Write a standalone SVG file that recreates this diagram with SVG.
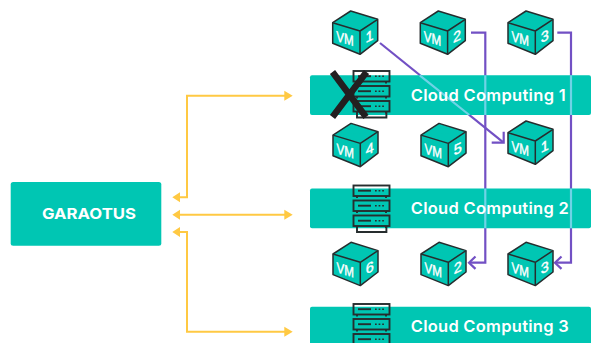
<svg xmlns="http://www.w3.org/2000/svg" width="591" height="343" viewBox="0 0 591 343">
<defs>
<style>
.teal{fill:#00c6b3}
.yl{fill:none;stroke:#ffc943;stroke-width:2}
.yh{fill:#ffc943}
.pu{fill:none;stroke:#7250c4;stroke-width:2.2}
.cross{fill:none;stroke:#6fd3e6;stroke-width:2.2}
.t{font-family:"Inter","Liberation Sans",sans-serif;font-weight:600;fill:#fff}
.c{fill:#00c6b3;stroke:#262d2e;stroke-width:1.5;stroke-linejoin:round}
.v{font-family:"Liberation Sans",sans-serif;font-weight:400;font-size:14.5px;fill:#fff;stroke:#fff;stroke-width:.4}
.s{fill:none;stroke:#262d2e;stroke-width:1.9}
.d{fill:none;stroke:#262d2e;stroke-width:1.6;stroke-dasharray:1.7 1.9}
</style>
<g id="cube">
<path class="c" d="M0 0L27 8.3L27 29.7L9.3 43.3L-18 32.3L-18 11.7Z"/>
<path class="c" fill="none" d="M-18 11.7L9.3 20L27 8.3M9.3 20V43.3"/>
</g>
<g id="server">
<path class="s" d="M4 41V46.5H33.4V41"/>
<g id="unit">
<rect class="s" x="0.5" y="0" width="36" height="10.5"/>
<path class="s" d="M5 5.2H18"/><path class="d" d="M22 5.2H32"/>
<path class="s" d="M4 10.5V12.5M33 10.5V12.5"/>
</g>
<use href="#unit" y="15"/><use href="#unit" y="30"/>
</g>
</defs>

<g id="connectors">
<path class="yl" d="M285 95.7H187V197.3H179"/>
<path class="yh" d="M292.7 95.7L284.3 90.7V100.7ZM172.3 197.3L180 192.3V202.3Z"/>
<path class="yl" d="M179 214.7H285"/>
<path class="yh" d="M172.3 214.7L180 209.7V219.7ZM292.7 214.7L284.3 209.7V219.7Z"/>
<path class="yl" d="M179 232H187V331.7H285"/>
<path class="yh" d="M172.3 232L180 227V237ZM292.7 331.7L284.3 326.7V336.7Z"/>
<path class="pu" d="M380 43L503 142.2"/>
<path class="pu" d="M491.7 142.7H503.7V131.7"/>
<path class="pu" d="M471 32.7H485.3V262.7H470"/>
<path class="pu" d="M475.5 256.5L469 262.7L475.5 268.9"/>
<path class="pu" d="M557.3 32.7H571V262.7H556"/>
<path class="pu" d="M561.5 256.5L555 262.7L561.5 268.9"/>
</g>

<g id="garaotus">
<rect class="teal" x="10.7" y="182" width="150.6" height="63.7" rx="2.5"/>
<text class="t" x="42" y="219.3" font-size="15" font-weight="700" style="font-weight:700" textLength="94" lengthAdjust="spacingAndGlyphs">GARAOTUS</text>
</g>

<g id="cloud1">
<rect class="teal" x="310" y="75.3" width="281" height="39.7" rx="2"/>
<path class="cross" d="M419.7 75.3L469.3 115M485.3 75.3V115M571 75.3V115"/>
<use href="#server" x="353" y="71"/>
<text class="t" x="410.7" y="101" font-size="16.5" textLength="155">Cloud Computing 1</text>
</g>
<g id="cloud2">
<rect class="teal" x="310" y="188.5" width="281" height="39.8" rx="2"/>
<path class="cross" d="M485.3 188.5V228.3M571 188.5V228.3"/>
<use href="#server" x="353" y="185.5"/>
<text class="t" x="410.7" y="214" font-size="16.5" textLength="158">Cloud Computing 2</text>
</g>
<g id="cloud3">
<rect class="teal" x="310" y="306.7" width="281" height="40" rx="2"/>
<use href="#server" x="353" y="304"/>
<text class="t" x="410.7" y="332" font-size="16.5" textLength="158">Cloud Computing 3</text>
</g>

<path id="failed" fill="none" stroke="#231f20" stroke-width="6.5" d="M332.5 72L366 117M366.5 72L332.5 117"/>

<g id="vm-a1"><use href="#cube" x="350.7" y="11"/>
<text class="v" transform="translate(336.2 41) skewY(17) scale(.8 1)">VM</text>
<text class="v" transform="translate(365.5 43) skewY(-25)">1</text></g>
<g id="vm-a2"><use href="#cube" x="438.3" y="11"/>
<text class="v" transform="translate(423.8 41) skewY(17) scale(.8 1)">VM</text>
<text class="v" transform="translate(453 43) skewY(-25)">2</text></g>
<g id="vm-a3"><use href="#cube" x="526" y="11"/>
<text class="v" transform="translate(511.5 41) skewY(17) scale(.8 1)">VM</text>
<text class="v" transform="translate(540.7 43) skewY(-25)">3</text></g>

<g id="vm-b4"><use href="#cube" x="351" y="123.4"/>
<text class="v" transform="translate(336.5 153.4) skewY(17) scale(.8 1)">VM</text>
<text class="v" transform="translate(365.7 155.4) skewY(-25)">4</text></g>
<g id="vm-b5"><use href="#cube" x="439" y="123.4"/>
<text class="v" transform="translate(424.5 153.4) skewY(17) scale(.8 1)">VM</text>
<text class="v" transform="translate(453.7 155.4) skewY(-25)">5</text></g>
<g id="vm-b1"><use href="#cube" x="526" y="121"/>
<text class="v" transform="translate(511.5 151) skewY(17) scale(.8 1)">VM</text>
<text class="v" transform="translate(540.8 153) skewY(-25)">1</text></g>

<g id="vm-c6"><use href="#cube" x="351" y="242.3"/>
<text class="v" transform="translate(336.5 272.3) skewY(17) scale(.8 1)">VM</text>
<text class="v" transform="translate(365.7 274.3) skewY(-25)">6</text></g>
<g id="vm-c2"><use href="#cube" x="439" y="242.3"/>
<text class="v" transform="translate(424.5 272.3) skewY(17) scale(.8 1)">VM</text>
<text class="v" transform="translate(453.7 274.3) skewY(-25)">2</text></g>
<g id="vm-c3"><use href="#cube" x="526" y="242.3"/>
<text class="v" transform="translate(511.5 272.3) skewY(17) scale(.8 1)">VM</text>
<text class="v" transform="translate(540.7 274.3) skewY(-25)">3</text></g>
</svg>
